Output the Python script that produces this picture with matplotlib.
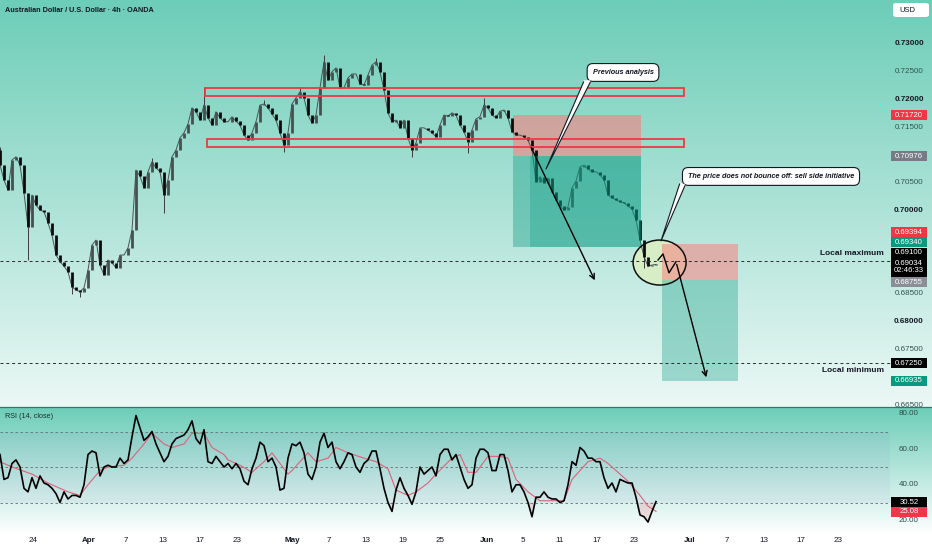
import numpy as np
import matplotlib.pyplot as plt
from matplotlib.patches import Rectangle, Ellipse, Polygon, FancyBboxPatch
from matplotlib.colors import to_rgb

plt.rcParams['font.family'] = ['Liberation Sans', 'DejaVu Sans']

# ---- data (one candle per 4 px, x = candle index) ----
first_open = 0.7110
closes = [0.7082, 0.7055, 0.7037, 0.7091, 0.7097, 0.7082, 0.7032, 0.6971, 0.7028, 0.7010,
          0.7001, 0.6998, 0.6978, 0.6956, 0.6920, 0.6908, 0.6900, 0.6890, 0.6863, 0.6857,
          0.6854, 0.6861, 0.6893, 0.6938, 0.6947, 0.6902, 0.6884, 0.6911, 0.6906, 0.6897,
          0.6920, 0.6920, 0.6933, 0.6965, 0.7073, 0.7062, 0.7041, 0.7070, 0.7088, 0.7077,
          0.7070, 0.7028, 0.7055, 0.7097, 0.7109, 0.7131, 0.7140, 0.7156, 0.7185, 0.7178,
          0.7163, 0.7190, 0.7167, 0.7154, 0.7178, 0.7167, 0.7160, 0.7160, 0.7169, 0.7161,
          0.7154, 0.7136, 0.7127, 0.7140, 0.7160, 0.7190, 0.7192, 0.7185, 0.7174, 0.7163,
          0.7140, 0.7118, 0.7140, 0.7192, 0.7203, 0.7214, 0.7203, 0.7172, 0.7158, 0.7172,
          0.7221, 0.7268, 0.7235, 0.7250, 0.7257, 0.7221, 0.7221, 0.7239, 0.7246, 0.7246,
          0.7228, 0.7226, 0.7244, 0.7262, 0.7268, 0.7250, 0.7217, 0.7176, 0.7160, 0.7163,
          0.7149, 0.7163, 0.7131, 0.7109, 0.7122, 0.7149, 0.7149, 0.7145, 0.7140, 0.7133,
          0.7154, 0.7172, 0.7170, 0.7176, 0.7172, 0.7154, 0.7142, 0.7124, 0.7145, 0.7165,
          0.7169, 0.7190, 0.7185, 0.7172, 0.7167, 0.7179, 0.7181, 0.7167, 0.7142, 0.7136,
          0.7136, 0.7133, 0.7127, 0.7109, 0.7052, 0.7061, 0.7050, 0.7059, 0.7034, 0.7019,
          0.7008, 0.7001, 0.7007, 0.7041, 0.7053, 0.7079, 0.7082, 0.7075, 0.7070, 0.7070,
          0.7064, 0.7055, 0.7028, 0.7023, 0.7019, 0.7016, 0.7014, 0.7008, 0.7003, 0.6983,
          0.6947, 0.6917, 0.6900, 0.6902, 0.6903]

# long wicks: candle index and wick tip
wick_idx = [0, 7, 18, 20, 38, 41, 51, 66, 71, 75, 81, 94, 103, 117, 121, 161]
wick_end = [0.7115, 0.6911, 0.6850, 0.6845, 0.7095, 0.6996, 0.7223, 0.7199, 0.7106, 0.7223,
            0.7280, 0.7275, 0.7097, 0.7104, 0.7203, 0.6897]

rsi = [57, 43, 44, 52, 54, 50, 38, 36, 44, 38, 45, 41, 40, 38, 35, 30, 36, 32, 34, 34,
       33, 40, 57, 59, 58, 45, 50, 51, 50, 50, 55, 52, 54, 67, 79, 72, 65, 67, 70, 63,
       58, 53, 56, 63, 66, 67, 68, 71, 76, 66, 63, 71, 53, 52, 56, 53, 50, 52, 49, 52,
       49, 42, 40, 49, 55, 64, 62, 53, 55, 50, 37, 38, 55, 63, 62, 64, 58, 46, 43, 50,
       64, 69, 61, 64, 53, 49, 53, 58, 57, 50, 47, 52, 54, 59, 59, 49, 38, 30, 25, 37,
       44, 38, 34, 29, 36, 50, 46, 48, 50, 45, 57, 60, 60, 54, 57, 50, 43, 38, 40, 55,
       60, 60, 58, 48, 48, 57, 57, 48, 36, 40, 40, 36, 30, 22, 33, 33, 36, 33, 32, 32,
       30, 31, 40, 53, 51, 61, 59, 55, 55, 53, 53, 44, 38, 41, 36, 43, 42, 41, 41, 33,
       23, 22, 19, 25, 30.5]

ma_idx = [0, 3, 8, 12, 17, 20, 22, 25, 27, 31, 33, 36, 38, 41, 43, 46, 48, 51, 53, 56,
          57, 60, 63, 66, 68, 72, 73, 77, 79, 82, 84, 87, 91, 94, 97, 99, 102, 104, 107, 109,
          113, 115, 117, 119, 122, 125, 127, 129, 132, 135, 138, 141, 143, 147, 150, 152, 155,
          157, 160, 162, 164]
ma_val = [53, 50, 46, 41, 36, 34, 40, 48, 50, 51, 55, 63, 69, 63, 61, 63, 69, 69, 61, 57,
          54, 51, 47, 53, 58, 46, 48, 58, 53, 55, 61, 58, 55, 53, 49, 37, 34, 36, 41, 46,
          55, 57, 47, 47, 56, 56, 55, 43, 36, 31, 31, 31, 43, 53, 55, 52, 46, 42, 34, 28, 25]

tick_idx = [8.25, 22.25, 31.5, 40.75, 50, 59.25, 73, 82.25, 91.5, 100.75, 110, 121.75,
            130.75, 140, 149.25, 158.5, 172.5, 181.75, 191, 200.25, 209.5]
tick_lab = ['24', 'Apr', '7', '13', '17', '23', 'May', '7', '13', '19', '25', 'Jun',
            '5', '11', '17', '23', 'Jul', '7', '13', '17', '23']
months = {'Apr', 'May', 'Jun', 'Jul'}

# price scale labels left visible by the badges
price_ticks = [0.730, 0.725, 0.720, 0.715, 0.705, 0.700, 0.685, 0.680, 0.675, 0.665]
rsi_ticks = [80, 60, 40, 20]

local_max = 0.69100
local_min = 0.67250
zone_hi = (0.72055, 0.72199)
zone_lo = (0.71150, 0.71290)
# position tools: stop, entry, target
pos1 = (0.71720, 0.70976, 0.69340)
pos2 = (0.69394, 0.68755, 0.66935)
last_price = 0.69034
rsi_last, ma_last = 30.52, 25.08

# ---- figure ----
W, H = 932, 550
fig = plt.figure(figsize=(W / 100, H / 100), dpi=100)
fig.patch.set_facecolor('white')
ax = fig.add_axes([0, 1 - 407 / H, 1, 407 / H])
axr = fig.add_axes([0, (H - 532) / H, 1, 125 / H])

XL = (0, 233)
YL = (0.66464, 0.73792)
RL = (13.4, 83.8)
PLOT_END = 222.5


def gradient(a, xl, yl, top, bottom):
    t = np.array(to_rgb(top))
    b = np.array(to_rgb(bottom))
    s = np.linspace(0, 1, 256)[:, None, None]
    img = t + (b - t) * s
    a.imshow(img, extent=[xl[0], xl[1], yl[0], yl[1]], aspect='auto', origin='upper', zorder=0)
    a.set_xlim(*xl)
    a.set_ylim(*yl)


gradient(ax, XL, YL, '#6ccdb8', '#ecf8f5')
gradient(axr, XL, RL, '#6ccdb8', '#fcfefe')

for a in (ax, axr):
    for s in a.spines.values():
        s.set_visible(False)
    a.set_yticks([])
ax.set_xticks([])
axr.spines['top'].set_visible(True)
axr.spines['top'].set_color('#3f6f69')
axr.spines['top'].set_linewidth(0.9)

# ---- candles ----
c = np.array(closes)
o = np.r_[first_open, c[:-1]]
x = np.arange(len(c))
up = c >= o
ax.plot(x, c, color='#4a5352', lw=0.7, zorder=3)
ax.vlines(wick_idx, wick_end, c[wick_idx], color='#3c3c3c', lw=0.7, zorder=3)
ax.vlines(x[up], o[up], c[up], color='#46504f', lw=2.0, zorder=3)
ax.vlines(x[~up], c[~up], o[~up], color='#0c0c0c', lw=2.0, zorder=3)

# ---- resistance zones ----
for lo, hi, x0 in ((zone_hi[0], zone_hi[1], 51.25), (zone_lo[0], zone_lo[1], 51.75)):
    ax.add_patch(Rectangle((x0, lo), 171 - x0, hi - lo, fc='none', ec='#f23645', lw=1.3, zorder=5))

# ---- position boxes ----
ax.add_patch(Rectangle((128.25, pos1[1]), 32, pos1[0] - pos1[1], fc='#ff7878', alpha=0.55, lw=0, zorder=2))
ax.add_patch(Rectangle((128.25, pos1[2]), 32, pos1[1] - pos1[2], fc='#089981', alpha=0.38, lw=0, zorder=4))
ax.add_patch(Rectangle((132.5, pos1[2]), 27.75, pos1[1] - pos1[2], fc='#089981', alpha=0.28, lw=0, zorder=4))

ax.add_patch(Ellipse((164.9, 0.69065), 13.25, 0.0081, fc='#d6edc6', ec='none', zorder=1.5))
ax.add_patch(Rectangle((165.5, pos2[1]), 19, pos2[0] - pos2[1], fc='#ff7878', alpha=0.5, lw=0, zorder=2))
ax.add_patch(Rectangle((165.5, pos2[2]), 19, pos2[1] - pos2[2], fc='#089981', alpha=0.33, lw=0, zorder=4))
ax.add_patch(Ellipse((164.9, 0.69065), 13.25, 0.0081, fc='none', ec='#111111', lw=1.1, zorder=6))

# ---- local levels ----
for lvl in (local_max, local_min):
    ax.hlines(lvl, 0, PLOT_END, colors='#2b2b2b', linestyles=(0, (3, 3)), lw=0.7, zorder=5)
ax.text(221, 0.6923, 'Local maximum', ha='right', va='center', fontsize=6, weight='bold', color='#131722', zorder=7)
ax.text(221, 0.67114, 'Local minimum', ha='right', va='center', fontsize=6, weight='bold', color='#131722', zorder=7)

# ---- arrows ----
ax.annotate('', xy=(149, 0.6870), xytext=(132.5, 0.7118),
            arrowprops=dict(arrowstyle='->', color='black', lw=1.0, mutation_scale=9), zorder=6)
ax.plot([164.5, 165.75, 167.25, 169], [0.6911, 0.6922, 0.6888, 0.6908], color='black', lw=1.0, zorder=6)
ax.annotate('', xy=(176.75, 0.6695), xytext=(169, 0.6908),
            arrowprops=dict(arrowstyle='->', color='black', lw=1.0, mutation_scale=9), zorder=6)


# ---- callouts ----
def callout(cx, cy, text, tail_base, tail_tip):
    ax.text(cx, cy, text, ha='center', va='center', fontsize=5.2, style='italic', weight='bold',
            color='#131722', zorder=7,
            bbox=dict(boxstyle='round,pad=0.75,rounding_size=0.8', fc='white', ec='#131722', lw=0.8))
    (ax0, ay0), (ax1, ay1) = tail_base
    ax.add_patch(Polygon([(ax0, ay0 + 0.0003), (ax1, ay1 + 0.0003), (ax1, ay1), tail_tip, (ax0, ay0)],
                         closed=True, fc='white', ec='none', zorder=7.5))
    ax.plot([ax0, tail_tip[0], ax1], [ay0, tail_tip[1], ay1], color='#131722', lw=0.8, zorder=7.6)


callout(155.75, 0.72487, 'Previous analysis',
        ((145.9, 0.72316), (147.6, 0.72316)), (136.5, 0.7075))
callout(192.75, 0.70615, 'The price does not bounce off: sell side initiative',
        ((169.9, 0.70480), (171.2, 0.70444)), (165.25, 0.69454))

# ---- price scale ----
XS = 227.25
for p in price_ticks:
    bold = abs(p * 100 - round(p * 100)) < 1e-6
    ax.text(XS, p, f'{p:.5f}', ha='center', va='center', fontsize=5.8,
            weight='bold' if bold else 'normal', color='#131722' if bold else '#2e5550',
            zorder=7, clip_on=False)

badge_val = [pos1[0], pos1[1], pos2[0], pos1[2], local_max, last_price, pos2[1], local_min, pos2[2]]
badge_pos = [0.71720, 0.70976, 0.69610, 0.69427, 0.69238, 0.68977, 0.68707, 0.67250, 0.66935]
badge_fc = ['#f23645', '#787b86', '#f23645', '#089981', '#000000', '#000000', '#8a8e97', '#000000', '#089981']
for v, yp, fc in zip(badge_val, badge_pos, badge_fc):
    txt = f'{v:.5f}'
    h = 0.0018
    if v == last_price:
        txt += '\n02:46:33'
        h = 0.0034
    ax.add_patch(Rectangle((222.75, yp - h / 2), 9, h, fc=fc, ec='none', zorder=8))
    ax.text(XS, yp, txt, ha='center', va='center', fontsize=5.6, color='white', zorder=9,
            linespacing=1.0)

for r in rsi_ticks:
    axr.text(XS, r, f'{r:.2f}', ha='center', va='center', fontsize=5.8, color='#2e4a48', zorder=7)
for v, fc in ((rsi_last, '#000000'), (ma_last, '#f23645')):
    yp = v - 0.3
    axr.add_patch(Rectangle((222.75, yp - 2.8), 9, 5.6, fc=fc, ec='none', zorder=8))
    axr.text(XS, yp, f'{v:.2f}', ha='center', va='center', fontsize=5.6, color='white', zorder=9)

# ---- RSI panel ----
r = np.array(rsi, dtype=float)
xr = np.arange(len(r))
axr.fill_between([0, PLOT_END], 30, 70, color='#7e57c2', alpha=0.06, lw=0, zorder=1)
for lvl in (70, 50, 30):
    axr.hlines(lvl, 0, PLOT_END, colors='#5f7471', linestyles=(0, (3, 3)), lw=0.6, zorder=2)
axr.fill_between(xr, r, 30, where=r < 30, interpolate=True, color='#f23645', alpha=0.15, lw=0, zorder=2)
axr.plot(ma_idx, ma_val, color='#e0607a', lw=0.8, zorder=3)
axr.plot(xr, r, color='black', lw=1.2, zorder=4)

axr.set_xticks(tick_idx)
axr.set_xticklabels(tick_lab, fontsize=5.8, color='#131722')
for t in axr.get_xticklabels():
    if t.get_text() in months:
        t.set_fontweight('bold')
axr.tick_params(axis='x', length=0, pad=3.5)

# ---- texts ----
fig.text(5 / W, 1 - 10 / H, 'Australian Dollar / U.S. Dollar \u00b7 4h \u00b7 OANDA', ha='left', va='center',
         fontsize=5.2, weight='bold', color='#131722')
fig.text(5 / W, 1 - 417 / H, 'RSI (14, close)', ha='left', va='center', fontsize=5.2, color='#1f2f2e')
fig.patches.append(FancyBboxPatch((893 / W, 1 - 17 / H), 36 / W, 14 / H,
                                  boxstyle='round,pad=0,rounding_size=0.004', fc='white', ec='none',
                                  transform=fig.transFigure, figure=fig))
fig.text(899 / W, 1 - 10 / H, 'USD', ha='left', va='center', fontsize=5.5, color='#131722')

fig.savefig('out.png', dpi=100)
